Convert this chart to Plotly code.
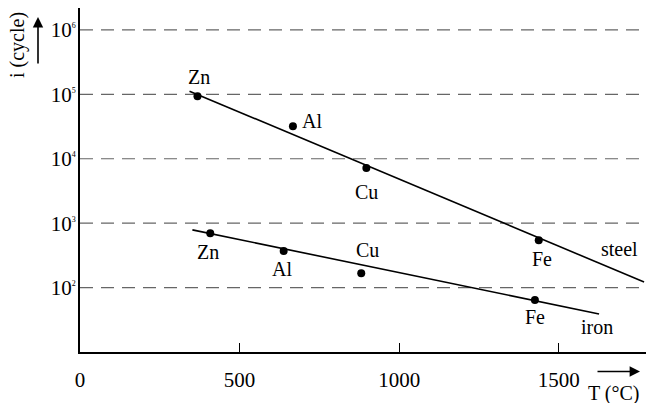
import math
import plotly.graph_objects as go

# --- data ---
metals = ["Zn", "Al", "Cu", "Fe"]
steel_T = [368, 667, 897, 1437]
steel_i = [93000, 32000, 7200, 545]
iron_T = [408, 638, 881, 1425]
iron_i = [700, 370, 167, 64]
# trend lines (start / end)
steel_line_T = [343, 1767]
steel_line_i = [112000, 122]
iron_line_T = [352, 1626]
iron_line_i = [787, 39]

x_ticks = [0, 500, 1000, 1500]
y_ticks = [100, 1000, 10000, 100000, 1000000]
y_tick_exp = ["2", "3", "4", "5", "6"]

FONT = "Liberation Serif"
BLACK = "#000000"

fig = go.Figure()

fig.add_trace(go.Scatter(x=steel_line_T, y=steel_line_i, mode="lines",
                         line=dict(color=BLACK, width=1.6), showlegend=False, hoverinfo="skip"))
fig.add_trace(go.Scatter(x=iron_line_T, y=iron_line_i, mode="lines",
                         line=dict(color=BLACK, width=1.6), showlegend=False, hoverinfo="skip"))
fig.add_trace(go.Scatter(x=steel_T, y=steel_i, mode="markers",
                         marker=dict(color=BLACK, size=8), showlegend=False))
fig.add_trace(go.Scatter(x=iron_T, y=iron_i, mode="markers",
                         marker=dict(color=BLACK, size=8), showlegend=False))

# gridlines (dashed) at decades
for v in y_ticks:
    fig.add_shape(type="line", xref="paper", x0=0, x1=1, yref="y", y0=v, y1=v,
                  line=dict(color="#666666", width=1.2, dash="13px,8px"), layer="below")

steel_shift = [(2, 19), (19, 5), (0, -24), (3, -19)]
iron_shift = [(-2, -19), (-2, -18), (6, 23), (0, -17)]
ann = []
for name, t, v, (dx, dy) in zip(metals, steel_T, steel_i, steel_shift):
    ann.append(dict(x=t, y=math.log10(v), text=name, showarrow=False, xshift=dx, yshift=dy))
for name, t, v, (dx, dy) in zip(metals, iron_T, iron_i, iron_shift):
    ann.append(dict(x=t, y=math.log10(v), text=name, showarrow=False, xshift=dx, yshift=dy))
ann.append(dict(x=1690, y=2.595, text="steel", showarrow=False))
ann.append(dict(x=1621, y=1.382, text="iron", showarrow=False))

# axis titles with arrows (pixel offsets relative to plot area)
ann.append(dict(xref="paper", yref="paper", x=-62 / 566, y=1 - 37 / 344, text="i (cycle)",
                textangle=-90, showarrow=False))
ann.append(dict(xref="paper", yref="paper", x=-42 / 566, y=1 - 9 / 344, ax=0, ay=48, text="",
                showarrow=True, arrowhead=2, arrowsize=1.3, arrowwidth=1.6, arrowcolor=BLACK))
ann.append(dict(xref="paper", yref="paper", x=534 / 566, y=-41 / 344, text="T (°C)",
                showarrow=False))
ann.append(dict(xref="paper", yref="paper", x=560 / 566, y=-19.5 / 344, ax=-44, ay=0, text="",
                showarrow=True, arrowhead=2, arrowsize=1.3, arrowwidth=1.6, arrowcolor=BLACK))
for a in ann:
    a.setdefault("font", dict(family=FONT, size=20, color=BLACK))
    if not a.get("showarrow"):
        a["xanchor"] = "center"
        a["yanchor"] = "middle"

fig.update_layout(
    width=646, height=403,
    margin=dict(l=80, r=0, t=8, b=51),
    plot_bgcolor="white", paper_bgcolor="white",
    font=dict(family=FONT, size=20, color=BLACK),
    annotations=ann,
    showlegend=False,
)
fig.update_xaxes(range=[0, 1773], tickvals=x_ticks, ticktext=[str(v) for v in x_ticks],
                 tickfont=dict(family=FONT, size=21, color=BLACK),
                 ticks="inside", ticklen=9, tickwidth=1, tickcolor=BLACK,
                 showgrid=False, zeroline=False, showline=True, linecolor=BLACK, linewidth=2,
                 ticklabelstandoff=8)
fig.update_yaxes(type="log", range=[1, 6.34], tickvals=y_ticks,
                 ticktext=["10<sup><span style='font-size:8px'>%s</span></sup>" % e for e in y_tick_exp],
                 tickfont=dict(family=FONT, size=21, color=BLACK),
                 ticks="", showgrid=False, zeroline=False, showline=True, linecolor=BLACK, linewidth=2,
                 ticklabelstandoff=-2)

# remove the default page margin so the figure fills the window exactly
fig.write_html("out.html", config={"displayModeBar": False},
               post_script="document.body.style.margin='0';")
